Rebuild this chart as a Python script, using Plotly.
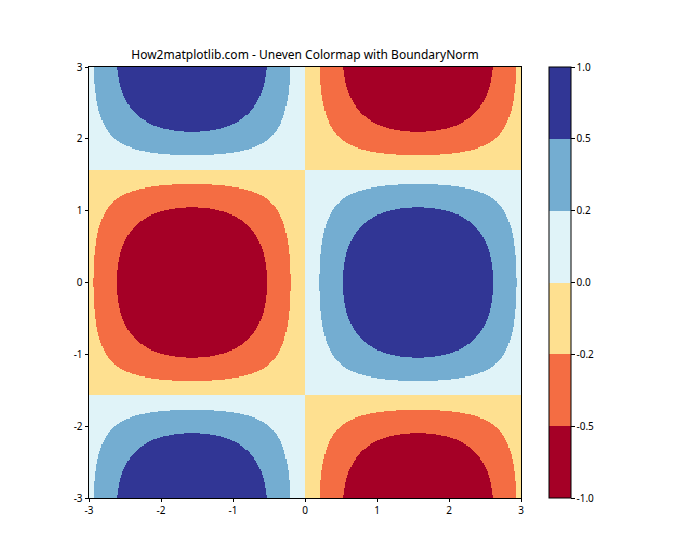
import numpy as np
import plotly.graph_objects as go

# Data
x = np.linspace(-3, 3, 400)
y = np.linspace(-3, 3, 400)
X, Y = np.meshgrid(x, y)
Z = np.sin(X) * np.cos(Y)

bounds = [-1.0, -0.5, -0.2, 0.0, 0.2, 0.5, 1.0]
bound_labels = ["-1.0", "-0.5", "-0.2", "0.0", "0.2", "0.5", "1.0"]
colors = ["#a50026", "#f46d43", "#fee090", "#e0f3f8", "#74add1", "#313695"]
axis_ticks = [-3, -2, -1, 0, 1, 2, 3]
axis_labels = ["-3", "-2", "-1", "0", "1", "2", "3"]

# Map values to band index (BoundaryNorm)
idx = np.clip(np.digitize(Z, bounds[1:-1]), 0, len(colors) - 1)
n = len(colors)
cs = []
for i, c in enumerate(colors):
    cs.append([i / n, c])
    cs.append([(i + 1) / n, c])

W, H = 700, 560
px0, px1 = 89, 521
py0, py1 = 67, 498

fig = go.Figure(go.Heatmap(
    x=x, y=y, z=idx, zmin=-0.5, zmax=n - 0.5,
    colorscale=cs,
    hoverinfo="skip",
    colorbar=dict(
        xref="paper", x=549 / W, xanchor="left",
        yref="paper", y=1 - py1 / H, yanchor="bottom",
        len=(py1 - py0) / H, lenmode="fraction",
        xpad=0, ypad=0,
        thickness=22, thicknessmode="pixels",
        outlinewidth=1, outlinecolor="black",
        tickvals=[i - 0.5 for i in range(n + 1)],
        ticktext=bound_labels,
        ticks="outside", ticklen=3.5, tickcolor="black", tickwidth=0.8,
        tickfont=dict(size=10, color="black"),
    ),
))

fig.update_layout(
    width=W, height=H,
    margin=dict(l=0, r=0, t=0, b=0, autoexpand=False),
    paper_bgcolor="white", plot_bgcolor="white",
    font=dict(family="Noto Sans, DejaVu Sans, sans-serif", color="black"),
    title=dict(text="How2matplotlib.com - Uneven Colormap with BoundaryNorm",
               x=(px0 + px1) / 2 / W, xanchor="center",
               y=1 - 55 / H, yanchor="middle",
               font=dict(size=12, color="black")),
    xaxis=dict(domain=[px0 / W, px1 / W], range=[-3, 3], automargin=False,
               tickvals=axis_ticks, ticktext=axis_labels,
               ticks="outside", ticklen=3.5, tickwidth=0.8, tickcolor="black",
               showline=True, linecolor="black", linewidth=0.8, mirror=True,
               showgrid=False, zeroline=False, tickfont=dict(size=10)),
    yaxis=dict(domain=[1 - py1 / H, 1 - py0 / H], range=[-3, 3], automargin=False,
               tickvals=axis_ticks, ticktext=axis_labels,
               ticks="outside", ticklen=3.5, tickwidth=0.8, tickcolor="black",
               showline=True, linecolor="black", linewidth=0.8, mirror=True,
               showgrid=False, zeroline=False, tickfont=dict(size=10)),
)

fig.write_html("out.html")
